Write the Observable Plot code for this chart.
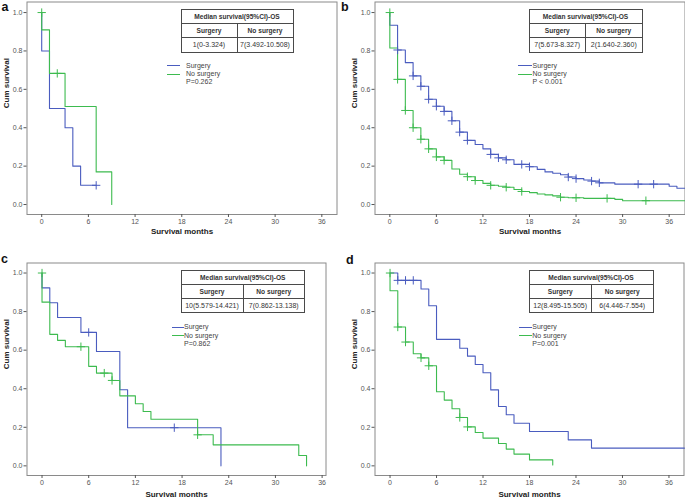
<!DOCTYPE html>
<html>
<head>
<meta charset="utf-8">
<script src="https://cdn.jsdelivr.net/npm/d3@7"></script>
<script src="https://cdn.jsdelivr.net/npm/@observablehq/plot@0.6"></script>
<style>
  html, body { margin: 0; padding: 0; background: #fff; }
  body { font-family: "Liberation Sans", Arial, sans-serif; }
  #fig { position: relative; width: 685px; height: 499px; overflow: hidden; background: #fff; }
  .panel { position: absolute; }
  .letter { position: absolute; font-weight: bold; font-size: 12.5px; line-height: 1.15; color: #111; }
  table.ms { position: absolute; border-collapse: collapse; table-layout: fixed; color: #333; }
  table.ms td { border: 1px solid #4a4a4a; padding: 0; text-align: center; white-space: nowrap; overflow: hidden; }
  table.ms td.h { font-weight: bold; font-size: 6.6px; }
  table.ms td.v { font-size: 7px; }
  .lg-line { position: absolute; height: 1px; }
  .lg-text { position: absolute; font-size: 7px; line-height: 8px; color: #444; white-space: nowrap; }
</style>
</head>
<body>
<div id="fig"></div>
<script>
// ---------- shared labels / ticks ----------
const monthTicks = [0, 6, 12, 18, 24, 30, 36];
const survTicks = [0, 0.2, 0.4, 0.6, 0.8, 1.0];
const groupNames = ["Surgery", "No surgery"];
const groupColors = ["#4a5cbf", "#3dbb4f"];
const panelLetters = ["a", "b", "c", "d"];
const tableTitle = "Median survival(95%CI)-OS";
const yLabel = "Cum survival";
const xLabel = "Survival months";

// ---------- panel a ----------
const aSurgMonths = [0, 0, 1, 3, 4, 5, 7];
const aSurgSurv   = [1, 0.8, 0.5, 0.4, 0.2, 0.1, 0.1];
const aSurgCensMonths = [7];
const aSurgCensSurv   = [0.1];
const aNoMonths = [0, 0, 1, 3, 7, 9];
const aNoSurv   = [1, 0.91, 0.683, 0.511, 0.17, 0];
const aNoCensMonths = [0, 2];
const aNoCensSurv   = [1, 0.683];
const aMedians = ["1(0-3.324)", "7(3.492-10.508)"];
const aP = "P=0.262";

// ---------- panel b ----------
const bSurgMonths = [0, 0, 1, 2, 3, 4, 5, 6, 7, 8, 9, 10, 11, 12, 13, 14, 15, 16, 18, 19, 20, 21, 22, 23, 24, 25, 26, 27, 29, 36, 37, 38];
const bSurgSurv   = [1, 0.934, 0.805, 0.739, 0.67, 0.616, 0.548, 0.512, 0.485, 0.436, 0.377, 0.334, 0.313, 0.29, 0.261, 0.243, 0.233, 0.209, 0.197, 0.183, 0.17, 0.163, 0.155, 0.143, 0.135, 0.128, 0.122, 0.113, 0.106, 0.095, 0.085, 0.085];
const bSurgCensMonths = [1, 3, 4, 5, 6, 7, 8, 9, 10, 13, 14, 15, 17, 18, 23, 24, 26, 27, 32, 34];
const bSurgCensSurv   = [0.805, 0.67, 0.616, 0.548, 0.512, 0.485, 0.436, 0.377, 0.334, 0.261, 0.243, 0.233, 0.209, 0.197, 0.143, 0.135, 0.122, 0.113, 0.106, 0.106];
const bNoMonths = [0, 0, 1, 2, 3, 4, 5, 6, 7, 8, 9, 10, 11, 12, 13, 14, 15, 16, 17, 18, 19, 20, 21, 22, 23, 25, 29, 30, 38];
const bNoSurv   = [1, 0.815, 0.652, 0.49, 0.40, 0.34, 0.29, 0.248, 0.23, 0.185, 0.158, 0.145, 0.125, 0.11, 0.1, 0.095, 0.09, 0.078, 0.068, 0.062, 0.055, 0.05, 0.045, 0.038, 0.035, 0.032, 0.027, 0.02, 0.02];
const bNoCensMonths = [0, 1, 2, 3, 4, 5, 6, 7, 10, 11, 13, 15, 17, 22, 24, 28, 33];
const bNoCensSurv   = [1, 0.652, 0.49, 0.40, 0.34, 0.29, 0.248, 0.23, 0.145, 0.125, 0.1, 0.09, 0.068, 0.038, 0.035, 0.032, 0.02];
const bMedians = ["7(5.673-8.327)", "2(1.640-2.360)"];
const bP = "P < 0.001";

// ---------- panel c ----------
const cSurgMonths = [0, 0, 1, 2, 5, 7, 10, 11, 23];
const cSurgSurv   = [1, 0.923, 0.846, 0.769, 0.692, 0.593, 0.395, 0.198, 0];
const cSurgCensMonths = [6, 17];
const cSurgCensSurv   = [0.692, 0.198];
const cNoMonths = [0, 0, 1, 2, 3, 6, 7, 9, 10, 12, 13, 14, 20, 22, 33, 34];
const cNoSurv   = [1, 0.849, 0.682, 0.651, 0.618, 0.516, 0.481, 0.443, 0.363, 0.322, 0.282, 0.242, 0.161, 0.109, 0.054, 0];
const cNoCensMonths = [0, 5, 8, 9, 20];
const cNoCensSurv   = [1, 0.618, 0.481, 0.443, 0.161];
const cMedians = ["10(5.579-14.421)", "7(0.862-13.138)"];
const cP = "P=0.862";

// ---------- panel d ----------
const dSurgMonths = [0, 1, 4, 5, 6, 9, 10, 11, 12, 13, 14, 15, 16, 18, 23, 26, 38];
const dSurgSurv   = [1, 0.962, 0.917, 0.83, 0.656, 0.61, 0.569, 0.526, 0.483, 0.394, 0.308, 0.265, 0.221, 0.178, 0.135, 0.092, 0.092];
const dSurgCensMonths = [1, 2, 3];
const dSurgCensSurv   = [0.962, 0.962, 0.962];
const dNoMonths = [0, 0, 1, 2, 3, 4, 5, 6, 7, 8, 9, 10, 11, 12, 14, 15, 16, 18, 21];
const dNoSurv   = [1, 0.908, 0.72, 0.642, 0.581, 0.56, 0.519, 0.384, 0.341, 0.296, 0.251, 0.202, 0.173, 0.144, 0.116, 0.087, 0.061, 0.031, 0.005];
const dNoCensMonths = [0, 1, 2, 4, 5, 9, 10];
const dNoCensSurv   = [1, 0.72, 0.642, 0.56, 0.519, 0.251, 0.202];
const dMedians = ["12(8.495-15.505)", "6(4.446-7.554)"];
const dP = "P=0.001";

// ---------- layout (positions only) ----------
const panels = [
  { data: [aSurgMonths, aSurgSurv, aNoMonths, aNoSurv], cens: [aSurgCensMonths, aSurgCensSurv, aNoCensMonths, aNoCensSurv],
    medians: aMedians, p: aP,
    left: 0, top: 0, w: 340, h: 240, ml: 26.5, mr: 3.5, mt: 1.5, mb: 26, xd: [-1.89, 37.95], yd: [-0.052, 1.055], xlDy: 19.5,
    letter: [1.5, 0.3], table: { x: 180.5, y: 9, w: 112, c1: 56, rows: [14, 14, 14.5] },
    legend: { lx: 167, lw: 13, tx: 186, y: 65.7 } },
  { data: [bSurgMonths, bSurgSurv, bNoMonths, bNoSurv], cens: [bSurgCensMonths, bSurgCensSurv, bNoCensMonths, bNoCensSurv],
    medians: bMedians, p: bP,
    left: 340, top: 0, w: 345, h: 240, ml: 34.5, mr: 0.5, mt: 1.5, mb: 26, xd: [-1.91, 38.04], yd: [-0.052, 1.055], xlDy: 19.5,
    letter: [341, 0.3], table: { x: 528.5, y: 9, w: 113, c1: 56.5, rows: [14, 14, 14.5] },
    legend: { lx: 517.5, lw: 14, tx: 532.5, y: 65.7 } },
  { data: [cSurgMonths, cSurgSurv, cNoMonths, cNoSurv], cens: [cSurgCensMonths, cSurgCensSurv, cNoCensMonths, cNoCensSurv],
    medians: cMedians, p: cP,
    left: 0, top: 240, w: 340, h: 259, ml: 26.5, mr: 14.5, mt: 22.5, mb: 24, xd: [-1.93, 36.5], yd: [-0.050, 1.052], xlDy: 21,
    letter: [1, 252], table: { x: 180.5, y: 270, w: 123.5, c1: 62, rows: [14, 14, 14.3] },
    legend: { lx: 171.7, lw: 12, tx: 184, y: 327.3 } },
  { data: [dSurgMonths, dSurgSurv, dNoMonths, dNoSurv], cens: [dSurgCensMonths, dSurgCensSurv, dNoCensMonths, dNoCensSurv],
    medians: dMedians, p: dP,
    left: 340, top: 240, w: 345, h: 259, ml: 34.5, mr: 1.5, mt: 22.5, mb: 24, xd: [-1.94, 37.94], yd: [-0.050, 1.052], xlDy: 21,
    letter: [346, 252.7], table: { x: 528.5, y: 270, w: 124, c1: 62.4, rows: [14, 14, 14.3] },
    legend: { lx: 519, lw: 13, tx: 532.3, y: 327.3 } }
];

const fig = document.getElementById("fig");

panels.forEach((P, k) => {
  const [sT, sS, nT, nS] = P.data;
  const [scT, scS, ncT, ncS] = P.cens;
  const curves = [
    ...sT.map((t, i) => ({ g: groupNames[0], t, s: sS[i] })),
    ...nT.map((t, i) => ({ g: groupNames[1], t, s: nS[i] }))
  ];
  const censors = [
    ...scT.map((t, i) => ({ g: groupNames[0], t, s: scS[i] })),
    ...ncT.map((t, i) => ({ g: groupNames[1], t, s: ncS[i] }))
  ];

  const chart = Plot.plot({
    width: P.w, height: P.h,
    marginLeft: P.ml, marginRight: P.mr, marginTop: P.mt, marginBottom: P.mb,
    x: { domain: P.xd },
    y: { domain: P.yd },
    color: { domain: groupNames, range: groupColors },
    style: { fontFamily: "'Liberation Sans', Arial, sans-serif", background: "transparent", overflow: "visible" },
    marks: [
      Plot.frame({ stroke: "#8a8a8a" }),
      Plot.axisX({ ticks: monthTicks, tickSize: 3, tickPadding: 2, fontSize: 7, color: "#555", label: null }),
      Plot.axisY({ ticks: survTicks, tickFormat: d3.format(".1f"), tickSize: 3, tickPadding: 1.5, fontSize: 7, color: "#555", label: null }),
      Plot.line(curves, { x: "t", y: "s", z: "g", stroke: "g", curve: "step-after", strokeWidth: 1.1 }),
      Plot.dot(censors, { x: "t", y: "s", stroke: "g", symbol: "plus", r: 2.8, strokeWidth: 1 }),
      Plot.text([yLabel], { frameAnchor: "left", dx: -21, rotate: -90, fontSize: 8, fontWeight: "bold", fill: "#222" }),
      Plot.text([xLabel], { frameAnchor: "bottom", dy: P.xlDy, fontSize: 8, fontWeight: "bold", fill: "#222" })
    ]
  });
  chart.classList.add("panel");
  chart.style.left = P.left + "px";
  chart.style.top = P.top + "px";
  fig.appendChild(chart);

  // panel letter
  const L = document.createElement("div");
  L.className = "letter";
  L.textContent = panelLetters[k];
  L.style.left = P.letter[0] + "px";
  L.style.top = P.letter[1] + "px";
  fig.appendChild(L);

  // median survival table
  const T = P.table;
  const tbl = document.createElement("table");
  tbl.className = "ms";
  tbl.style.left = T.x + "px";
  tbl.style.top = T.y + "px";
  tbl.style.width = T.w + "px";
  tbl.innerHTML =
    `<colgroup><col style="width:${T.c1}px"><col style="width:${T.w - T.c1}px"></colgroup>` +
    `<tr style="height:${T.rows[0]}px"><td class="h" colspan="2">${tableTitle}</td></tr>` +
    `<tr style="height:${T.rows[1]}px"><td class="h">${groupNames[0]}</td><td class="h">${groupNames[1]}</td></tr>` +
    `<tr style="height:${T.rows[2]}px"><td class="v">${P.medians[0]}</td><td class="v">${P.medians[1]}</td></tr>`;
  fig.appendChild(tbl);

  // legend
  const G = P.legend;
  groupNames.forEach((name, i) => {
    const ln = document.createElement("div");
    ln.className = "lg-line";
    ln.style.left = G.lx + "px";
    ln.style.width = G.lw + "px";
    ln.style.top = (G.y + i * 8.3 - 0.5) + "px";
    ln.style.background = groupColors[i];
    fig.appendChild(ln);
    const tx = document.createElement("div");
    tx.className = "lg-text";
    tx.style.left = G.tx + "px";
    tx.style.top = (G.y + i * 8.3 - 4) + "px";
    tx.textContent = name;
    fig.appendChild(tx);
  });
  const pt = document.createElement("div");
  pt.className = "lg-text";
  pt.style.left = G.tx + "px";
  pt.style.top = (G.y + 2 * 8.1 - 4) + "px";
  pt.textContent = P.p;
  fig.appendChild(pt);
});
</script>
</body>
</html>
